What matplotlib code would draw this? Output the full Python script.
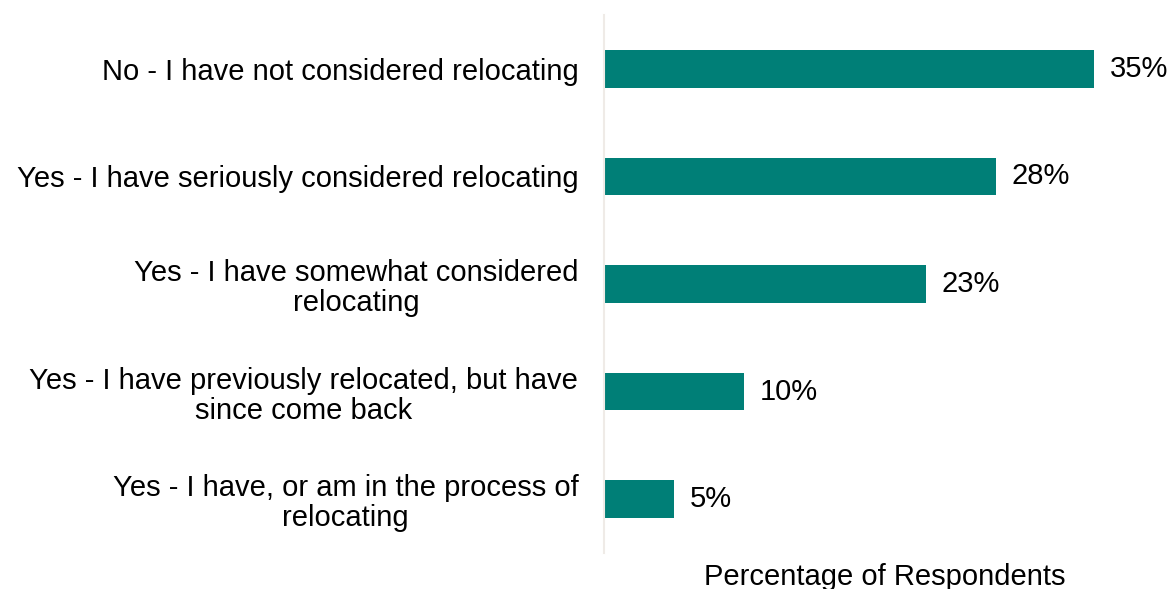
import matplotlib.pyplot as plt

plt.rcParams['font.family'] = ['Liberation Sans', 'DejaVu Sans']

# survey answers, top to bottom
answers = [
    "No - I have not considered relocating",
    "Yes - I have seriously considered relocating",
    "Yes - I have somewhat considered\nrelocating",
    "Yes - I have previously relocated, but have\nsince come back",
    "Yes - I have, or am in the process of\nrelocating",
]
share = [35, 28, 23, 10, 5]  # percent of respondents

teal = '#007F77'
fs = 21

fig = plt.figure(figsize=(11.7, 5.89), dpi=100)
ax = fig.add_axes([604 / 1170, (589 - 553) / 589, 560 / 1170, (553 - 15) / 589])

pos = list(range(len(answers)))[::-1]
ax.barh(pos, share, height=0.35, color=teal)

for p, v in zip(pos, share):
    ax.text(v + 1.1, p, f"{v}%", va='center', ha='left', fontsize=fs, color='black')

ax.set_yticks(pos)
ax.set_yticklabels(answers, fontsize=fs, ha='right', multialignment='center',
                   linespacing=1.1)
ax.tick_params(axis='y', length=0, pad=18.5)
ax.set_xticks([])
ax.set_xlim(0, 40)
ax.set_ylim(-0.5, 4.5)

for s in ['top', 'right', 'bottom']:
    ax.spines[s].set_visible(False)
ax.spines['left'].set_color('#EFEBE7')
ax.spines['left'].set_linewidth(1.5)

fig.text(885 / 1170, (589 - 577) / 589, "Percentage of Respondents",
         ha='center', va='center', fontsize=fs)

fig.savefig('out.png', dpi=100)
